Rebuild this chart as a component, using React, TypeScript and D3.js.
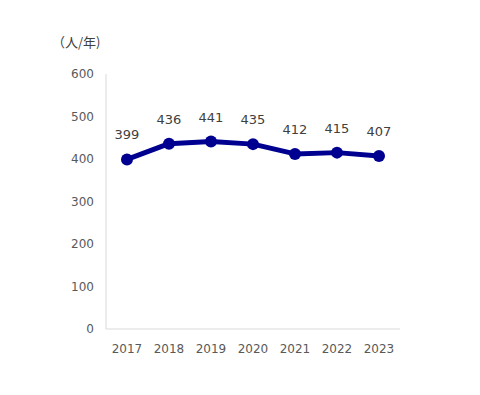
import React from "react";
import * as d3 from "d3";

const years = ["2017", "2018", "2019", "2020", "2021", "2022", "2023"];
const values = [399, 436, 441, 435, 412, 415, 407];
const yTicks = [0, 100, 200, 300, 400, 500, 600];
const unitLabel = "（人/年)";

export default function App() {
  const W = 480, H = 395;
  const left = 106, right = 400, top = 74, bottom = 329;
  const x = d3.scaleBand<string>().domain(years).range([left, right]);
  const y = d3.scaleLinear().domain([0, 600]).range([bottom, top]);
  const line = d3
    .line<number>()
    .x((_, i) => (x(years[i]) as number) + x.bandwidth() / 2)
    .y((d) => y(d));
  const font = "'DejaVu Sans', Verdana, sans-serif";
  return (
    <svg width={W} height={H} style={{ position: "absolute", left: 0, top: 0, background: "#fff" }}>
      <text x={52} y={47} fontSize={13} fill="#404040" fontFamily="'Noto Sans CJK JP', sans-serif">
        {unitLabel}
      </text>
      <line x1={left} x2={left} y1={top} y2={bottom} stroke="#d9d9d9" strokeWidth={1} />
      <line x1={left} x2={right} y1={bottom} y2={bottom} stroke="#d9d9d9" strokeWidth={1} />
      {yTicks.map((t) => (
        <text key={t} x={94} y={y(t) + 4} textAnchor="end" fontSize={12} fill="#595959" fontFamily={font}>
          {t}
        </text>
      ))}
      {years.map((yr) => (
        <text
          key={yr}
          x={(x(yr) as number) + x.bandwidth() / 2}
          y={353}
          textAnchor="middle"
          fontSize={12}
          fill="#595959"
          fontFamily={font}
        >
          {yr}
        </text>
      ))}
      <path d={line(values) || ""} fill="none" stroke="#000090" strokeWidth={5} strokeLinejoin="round" />
      {values.map((v, i) => {
        const cx = (x(years[i]) as number) + x.bandwidth() / 2;
        return (
          <g key={i}>
            <circle cx={cx} cy={y(v)} r={6} fill="#000090" />
            <text x={cx} y={y(v) - 20} textAnchor="middle" fontSize={13} fill="#404040" fontFamily={font}>
              {v}
            </text>
          </g>
        );
      })}
    </svg>
  );
}
